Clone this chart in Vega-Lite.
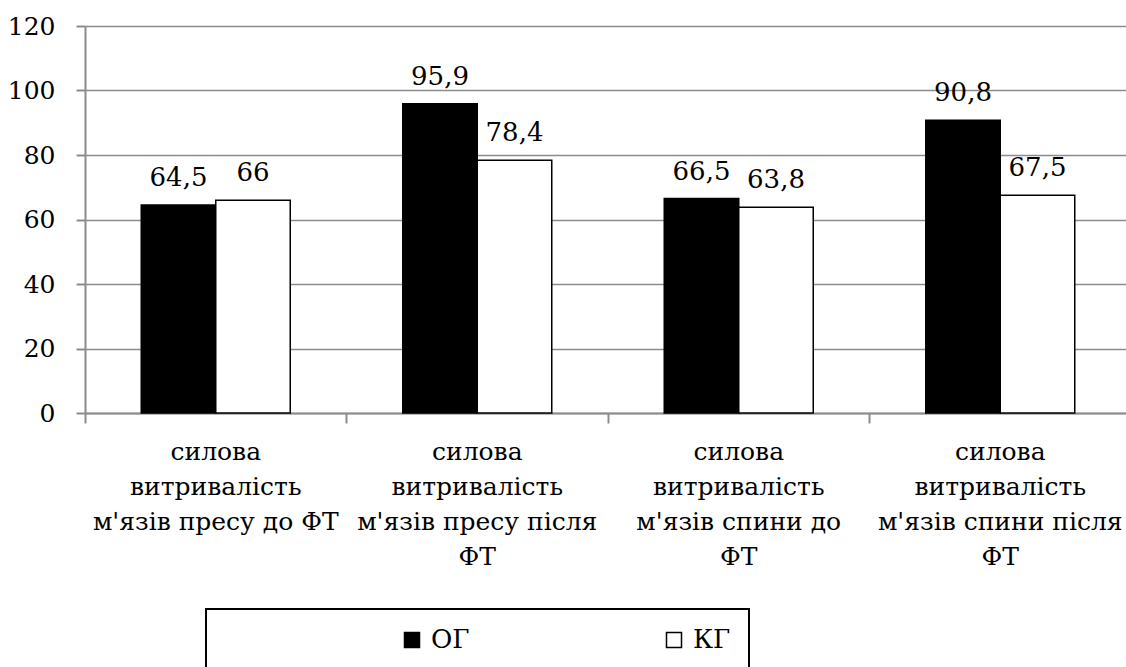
{
  "$schema": "https://vega.github.io/schema/vega-lite/v6.json",
  "autosize": {"type": "none"},
  "width": 1041,
  "height": 387,
  "padding": {"left": 85, "top": 26, "right": 0, "bottom": 254},
  "background": "white",
  "config": {
    "font": "DejaVu Serif",
    "locale": {"number": {"decimal": ",", "thousands": " ", "grouping": [3], "currency": ["", ""]}},
    "view": {"stroke": null},
    "axis": {"labelFont": "DejaVu Serif", "labelColor": "black", "labelFontSize": 25},
    "legend": {"labelFont": "DejaVu Serif"},
    "text": {"font": "DejaVu Serif"}
  },
  "data": {
    "values": [
      {"cat": "силова|витривалість|м'язів пресу до ФТ", "group": "ОГ", "value": 64.5},
      {"cat": "силова|витривалість|м'язів пресу до ФТ", "group": "КГ", "value": 66},
      {"cat": "силова|витривалість|м'язів пресу після|ФТ", "group": "ОГ", "value": 95.9},
      {"cat": "силова|витривалість|м'язів пресу після|ФТ", "group": "КГ", "value": 78.4},
      {"cat": "силова|витривалість|м'язів спини до|ФТ", "group": "ОГ", "value": 66.5},
      {"cat": "силова|витривалість|м'язів спини до|ФТ", "group": "КГ", "value": 63.8},
      {"cat": "силова|витривалість|м'язів спини після|ФТ", "group": "ОГ", "value": 90.8},
      {"cat": "силова|витривалість|м'язів спини після|ФТ", "group": "КГ", "value": 67.5}
    ]
  },
  "encoding": {
    "x": {
      "field": "cat", "type": "nominal", "sort": null,
      "scale": {"range": [0, 1046], "paddingInner": 0, "paddingOuter": 0},
      "axis": {
        "title": null, "labelAngle": 0, "bandPosition": 0,
        "labelExpr": "split(datum.label, '|')", "labelLineHeight": 35,
        "labelBaseline": "top", "labelPadding": 16, "labelLimit": 400,
        "labelFont": "DejaVu Serif",
        "domainColor": "#8c8c8c", "domainWidth": 2, "tickColor": "#8c8c8c", "tickWidth": 2, "tickSize": 10,
        "grid": false
      }
    },
    "xOffset": {"field": "group", "type": "nominal", "sort": ["ОГ", "КГ"], "scale": {"paddingInner": 0, "paddingOuter": 0.755}},
    "y": {
      "field": "value", "type": "quantitative",
      "scale": {"domain": [0, 120], "nice": false},
      "axis": {
        "title": null, "values": [0, 20, 40, 60, 80, 100, 120],
        "labelFont": "DejaVu Serif",
        "domainColor": "#8c8c8c", "domainWidth": 2, "tickColor": "#8c8c8c", "tickWidth": 2, "tickSize": 9,
        "gridColor": "#8c8c8c", "gridWidth": 1.5, "labelPadding": 21
      }
    }
  },
  "layer": [
    {
      "mark": {"type": "bar", "stroke": "black", "strokeWidth": 1.5},
      "encoding": {
        "fill": {
          "field": "group", "type": "nominal", "sort": ["ОГ", "КГ"],
          "scale": {"domain": ["ОГ", "КГ"], "range": ["black", "white"]},
          "legend": {
            "title": null, "orient": "none", "legendX": 121, "legendY": 583, "direction": "horizontal", "columns": 2,
            "strokeColor": "black", "padding": 18,
            "symbolType": "square", "symbolSize": 225, "symbolStrokeColor": "black", "symbolStrokeWidth": 1.5,
            "symbolOffset": 175, "labelOffset": 6, "columnPadding": 16,
            "labelFont": "DejaVu Serif", "labelFontSize": 26, "labelColor": "black",
            "encode": {"legend": {"update": {"strokeWidth": {"value": 2}}}}
          }
        }
      }
    },
    {
      "mark": {"type": "text", "font": "DejaVu Serif", "fontSize": 26, "color": "black", "baseline": "alphabetic", "dy": -19},
      "encoding": {
        "text": {"field": "value", "type": "quantitative", "format": "~g"}
      }
    }
  ]
}
